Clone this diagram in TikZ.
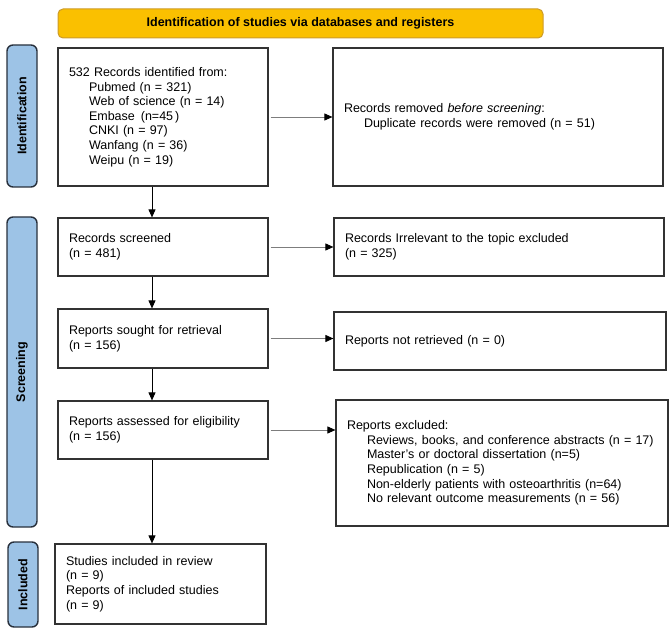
\documentclass[tikz,border=0pt]{standalone}
\usepackage{fontspec}
\setmainfont{Liberation Sans}
\usepackage{tikz}
\usetikzlibrary{arrows.meta,positioning}
\definecolor{bannerfill}{RGB}{250,192,0}
\definecolor{bannerline}{RGB}{205,155,40}
\definecolor{stagefill}{RGB}{157,195,230}
\definecolor{stageline}{RGB}{40,48,60}
\definecolor{boxline}{RGB}{50,50,50}
\definecolor{sidegray}{RGB}{125,125,125}
\newcommand{\boxfont}{\fontsize{12.5}{14.6}\selectfont}
\newcommand{\ind}{\hspace*{20pt}}
\tikzset{
  banner/.style={rectangle, rounded corners=5pt, draw=bannerline, line width=1pt,
                 fill=bannerfill, minimum width=485pt, minimum height=29pt,
                 font=\boxfont\bfseries},
  stage/.style={rectangle, rounded corners=6pt, draw=stageline, line width=1.4pt,
                fill=stagefill, rotate=90, minimum height=30pt, inner sep=0pt,
                font=\boxfont\bfseries},
}

\begin{document}
\begin{tikzpicture}[
  x=1pt, y=-1pt,
  rec/.style={rectangle, draw=boxline, line width=1.2pt, fill=white, align=left,
              inner xsep=11pt, inner ysep=0pt, font=\boxfont},
  downarr/.style={-{Triangle[length=8pt,width=7pt]}, line width=0.9pt, black},
  sidearr/.style={-{Triangle[length=8pt,width=7pt,color=black]}, line width=0.9pt, sidegray}
]
  \useasboundingbox (0,0) rectangle (669,639);
  % header and phase labels
  \node[banner] (head) at (300.5,23.5) {Identification of studies via databases and registers};
  \node[stage, minimum width=142pt] (sIdent) at (22,116) {Identification};
  \node[stage, minimum width=310pt] (sScreen) at (22,372) {Screening};
  \node[stage, minimum width=85pt] (sIncl) at (23,584.5) {Included};
  % main column
  \node[rec, text width=188pt, minimum height=138pt] (ident) at (163,117)
    {532 Records identified from:\\
     \ind Pubmed (n = 321)\\
     \ind Web of science (n = 14)\\
     \ind Embase\hspace{6pt}(n=45\hspace{2pt})\\
     \ind CNKI (n = 97)\\
     \ind Wanfang (n = 36)\\
     \ind Weipu (n = 19)};
  \node[rec, text width=188pt, minimum height=58pt] (screened) at (163,247)
    {Records screened\\(n = 481)};
  \node[rec, text width=188pt, minimum height=59pt] (sought) at (163,338.5)
    {Reports sought for retrieval\\(n = 156)};
  \node[rec, text width=188pt, minimum height=58pt] (assessed) at (163,430)
    {Reports assessed for eligibility\\(n = 156)};
  \node[rec, text width=189pt, minimum height=80pt] (included) at (160.5,584)
    {Studies included in review\\(n = 9)\\Reports of included studies\\(n = 9)};
  % side column
  \node[rec, text width=308pt, minimum height=138pt] (removed) at (498,117)
    {Records removed \textit{before screening}:\\
     \ind Duplicate records were removed (n = 51)\\[8pt]};
  \node[rec, text width=308pt, minimum height=58pt] (irrelevant) at (499,247)
    {Records Irrelevant to the topic excluded\\(n = 325)};
  \node[rec, text width=310pt, minimum height=58pt] (notretr) at (500,341)
    {Reports not retrieved (n = 0)};
  \node[rec, text width=310pt, minimum height=126pt] (excluded) at (502,463)
    {Reports excluded:\\
     \ind Reviews, books, and conference abstracts (n = 17)\\
     \ind Master's or doctoral dissertation (n=5)\\
     \ind Republication (n = 5)\\
     \ind Non-elderly patients with osteoarthritis (n=64)\\
     \ind No relevant outcome measurements (n = 56)};
  % connectors
  \foreach \a/\b in {ident/screened, screened/sought, sought/assessed, assessed/included}
    \draw[downarr] ([xshift=-11pt]\a.south) -- ([xshift=-11pt]\a.south |- \b.north);
  \foreach \a/\b in {ident/removed, screened/irrelevant, sought/notretr, assessed/excluded}
    \draw[sidearr] ([xshift=2pt]\a.east) -- (\a.east -| \b.west);
\end{tikzpicture}
\end{document}
